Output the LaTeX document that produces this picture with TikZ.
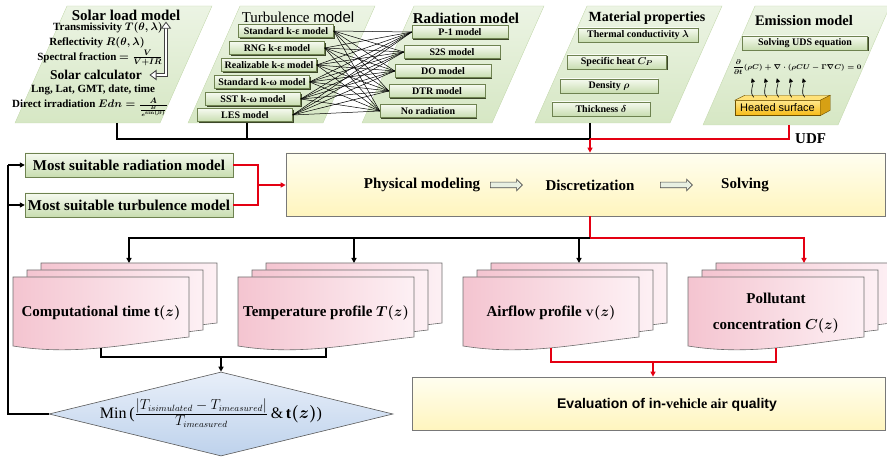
\documentclass[tikz,border=0pt]{standalone}
\usepackage{amsmath}
\usepackage[no-math]{fontspec}
\setmainfont{Liberation Serif}
\setsansfont{Liberation Sans}
\usetikzlibrary{arrows.meta}
\usetikzlibrary{calc}
\usetikzlibrary{shadows}
\usetikzlibrary{shapes.geometric}
\usetikzlibrary{shapes.arrows}

\definecolor{paneltop}{RGB}{236,244,228}
\definecolor{panelbot}{RGB}{214,231,196}
\definecolor{paneledge}{RGB}{198,218,176}
\definecolor{btntop}{RGB}{246,250,240}
\definecolor{btnbot}{RGB}{200,221,176}
\definecolor{btnedge}{RGB}{110,130,80}
\definecolor{btnshade}{RGB}{60,70,40}
\definecolor{procpale}{RGB}{255,254,240}
\definecolor{procyellow}{RGB}{255,245,190}
\definecolor{boxedge}{RGB}{120,120,120}
\definecolor{sheetpink}{RGB}{244,196,208}
\definecolor{sheetpale}{RGB}{253,240,244}
\definecolor{sheetedge}{RGB}{110,110,110}
\definecolor{diamtop}{RGB}{232,239,249}
\definecolor{diambot}{RGB}{190,210,236}
\definecolor{udfred}{RGB}{228,0,18}
\definecolor{hottop}{RGB}{255,232,140}
\definecolor{hotbot}{RGB}{246,185,20}
\definecolor{hotlid}{RGB}{255,226,120}
\definecolor{hotside}{RGB}{214,160,20}
\definecolor{hotedge}{RGB}{110,80,0}
\definecolor{arrowfill}{RGB}{232,240,226}

\tikzstyle{panel}=[draw=paneledge, top color=paneltop, bottom color=panelbot]
\tikzstyle{heading}=[font=\bfseries\fontsize{15}{17}\selectfont, inner sep=0pt]
\tikzstyle{solarline}=[font=\bfseries\boldmath\fontsize{11}{12}\selectfont, inner sep=0pt]
\tikzstyle{modelbox}=[draw=btnedge, top color=btntop, bottom color=btnbot,
  drop shadow={shadow xshift=1.2pt, shadow yshift=-1.2pt, fill=btnshade, opacity=1},
  inner sep=0pt, minimum height=13, font=\bfseries\boldmath\fontsize{10}{12}\selectfont]
\tikzstyle{choice}=[modelbox, minimum width=208, minimum height=24, font=\bfseries\fontsize{15}{17}\selectfont]
\tikzstyle{stage}=[draw=boxedge, line width=0.7pt, top color=procpale, bottom color=procyellow, inner sep=0pt]
\tikzstyle{stagetext}=[font=\bfseries\fontsize{15}{17}\selectfont, inner sep=0pt]
\tikzstyle{bigarrow}=[single arrow, draw=gray!60!black, fill=arrowfill, line width=0.6pt,
  minimum height=32, inner xsep=0pt, inner ysep=2.5pt, single arrow head extend=3pt]
\tikzstyle{sheet}=[draw=sheetedge, line width=0.6pt, left color=sheetpink, right color=sheetpale]
\tikzstyle{sheettext}=[font=\bfseries\boldmath\fontsize{15}{18}\selectfont, align=center, inner sep=0pt]
\tikzstyle{decision}=[diamond, draw=gray!70!black, line width=0.6pt, top color=diamtop, bottom color=diambot,
  minimum width=344, minimum height=84, inner sep=0pt]
\tikzstyle{hotface}=[draw=hotedge, top color=hottop, bottom color=hotbot, minimum width=85, minimum height=15,
  inner sep=0pt, font=\sffamily\fontsize{11}{13}\selectfont]
\tikzstyle{twowayrim}=[draw=black!75, line width=3.4pt, line join=miter]
\tikzstyle{twowaycore}=[draw=white, line width=1.8pt, line join=miter]
\tikzstyle{twowayhead}=[draw=black!75, fill=white, line width=0.8pt, line join=miter]
\tikzstyle{blackline}=[line width=1.2pt]
\tikzstyle{redline}=[line width=1.3pt, draw=udfred]
\tikzstyle{flowtip}=[-{Triangle[length=5pt,width=5pt]}]
\tikzstyle{meshline}=[line width=0.5pt]
\tikzstyle{waveup}=[line width=0.6pt, -{Triangle[length=4pt,width=4pt]}]

\newcommand{\docstack}[4]{%
  \foreach \k in {2,1,0}{%
    \pgfmathsetmacro{\pagex}{#2+14*\k}%
    \pgfmathsetmacro{\pagey}{#3-7*\k}%
    \path[sheet] (\pagex,\pagey) -- ++(176,0) -- ++(0,60)
      .. controls ($(\pagex,\pagey)+(114,67)$) and ($(\pagex,\pagey)+(62,79)$) .. ($(\pagex,\pagey)+(0,69)$) -- cycle;
  }%
  \node[sheettext] (#1) at (#2+88,#3+36) {#4};
  \coordinate (#1top) at (#2+116,#3-14);
  \coordinate (#1foot) at (#2+88,#3+71);
}

\begin{document}
\begin{tikzpicture}[x=1pt,y=-1pt]
  \useasboundingbox (0,0) rectangle (887,457);

  \path[panel] (15,123) -- (67,6) -- (212,6) -- (160,123) -- cycle;
  \path[panel] (188,123) -- (240,6) -- (375,6) -- (323,123) -- cycle;
  \path[panel] (362,123) -- (414,6) -- (544,6) -- (492,123) -- cycle;
  \path[panel] (535,123) -- (587,6) -- (722,6) -- (670,123) -- cycle;
  \path[panel] (703,125) -- (755,6) -- (890,6) -- (838,125) -- cycle;

  \node[heading] (solartitle) at (126,15) {Solar load model};
  \node[solarline] (transm) at (108,28) {Transmissivity $T(\theta,\lambda)$};
  \node[solarline] (reflect) at (97,43) {Reflectivity $R(\theta,\lambda)$};
  \node[solarline] (spectral) at (100,58) {Spectral fraction $=\frac{V}{V+IR}$};
  \node[heading, font=\bfseries\fontsize{13.5}{15}\selectfont] (solcalc) at (96,75) {Solar calculator};
  \node[solarline] (lnglat) at (93,90) {Lng, Lat, GMT, date, time};
  \node[solarline] (direct) at (90,107) {Direct irradiation $Edn=\frac{A}{\frac{B}{e^{\sin(\beta)}}}$};
  \coordinate (loopx) at (166,0);
  \coordinate (loopup) at (loopx |- transm.north);
  \coordinate (loopdown) at (loopx |- solcalc);
  \coordinate (looptip) at ([xshift=8pt]solcalc.east);
  \draw[twowayrim] ([yshift=-5pt]loopup) -- (loopdown) -- ([xshift=5pt]looptip);
  \draw[twowaycore] ([yshift=-4pt]loopup) -- (loopdown) -- ([xshift=4pt]looptip);
  \path[twowayhead] (loopup) -- ++(-4.5,6) -- ++(9,0) -- cycle;
  \path[twowayhead] (looptip) -- ++(6,-4.5) -- ++(0,9) -- cycle;

  \node[heading, font=\fontsize{15}{17}\selectfont] (turbtitle) at (298,17) {Turbulence \textsf{model}};
  \node[modelbox, minimum width=95] (stdke) at (286,31) {Standard k-ε model};
  \node[modelbox, minimum width=95] (rngke) at (277,48) {RNG k-ε model};
  \node[modelbox, minimum width=95] (realke) at (269,65) {Realizable k-ε model};
  \node[modelbox, minimum width=95] (stdkw) at (262,82) {Standard k-ω model};
  \node[modelbox, minimum width=95] (sstkw) at (253,99) {SST k-ω model};
  \node[modelbox, minimum width=95] (les) at (245,115) {LES model};

  \node[heading] (radtitle) at (466,18) {Radiation model};
  \node[modelbox, minimum width=96] (pone) at (460,32) {P-1 model};
  \node[modelbox, minimum width=96] (stos) at (452,52) {S2S model};
  \node[modelbox, minimum width=96] (dom) at (443,71) {DO model};
  \node[modelbox, minimum width=96] (dtr) at (437,91) {DTR model};
  \node[modelbox, minimum width=96] (norad) at (428,111) {No radiation};

  \foreach \t in {stdke,rngke,realke,stdkw,sstkw,les}
    \foreach \r in {pone,stos,dom,dtr,norad}
      \draw[meshline] (\t.east) -- (\r.west);

  \node[heading, font=\bfseries\fontsize{14}{16}\selectfont] (mattitle) at (647,18) {Material properties};
  \node[modelbox, minimum width=120, minimum height=14] (thermal) at (638,35) {Thermal conductivity $\lambda$};
  \node[modelbox, minimum width=99, minimum height=14] (specheat) at (617,62) {Specific heat $C_P$};
  \node[modelbox, minimum width=98, minimum height=14] (density) at (609,86) {Density $\rho$};
  \node[modelbox, minimum width=98, minimum height=14] (thick) at (601,109) {Thickness $\delta$};

  \node[heading, font=\bfseries\fontsize{14.5}{16}\selectfont] (emistitle) at (804,21) {Emission model};
  \node[modelbox, minimum width=125, minimum height=14] (udseq) at (805,43) {Solving UDS equation};
  \node[inner sep=0pt, font=\boldmath\fontsize{7.5}{9}\selectfont] (eqn) at (797,67)
    {$\displaystyle\frac{\partial}{\partial t}(\rho C)+\nabla\cdot(\rho CU-\Gamma\nabla C)=0$};
  \node[hotface] (heated) at (777.5,108) {Heated surface};
  \path[draw=hotedge, fill=hotlid] (heated.north west) -- ++(10,-5) -- ($(heated.north east)+(10,-5)$) -- (heated.north east) -- cycle;
  \path[draw=hotedge, fill=hotside] (heated.north east) -- ++(10,-5) -- ++(0,15) -- (heated.south east) -- cycle;
  \foreach \x in {17,30,42,55,68}
    \draw[waveup] ($(heated.north west)+(\x+2,-3)$) .. controls +(-5,-5) and +(2,6) .. ($(heated.north west)+(\x,-22)$);

  \coordinate (solarfoot) at (117,123);
  \coordinate (turbfoot) at (247,123);
  \coordinate (matfoot) at (590,123);
  \coordinate (emisfoot) at (789,125);
  \coordinate (upjoin) at (590,139);
  \draw[blackline] (solarfoot) |- (upjoin);
  \draw[blackline] (turbfoot) -- (turbfoot |- upjoin);
  \draw[blackline] (matfoot) -- (upjoin);
  \draw[redline] (emisfoot) |- (upjoin);
  \node[heading, anchor=west] (udf) at (795,139) {UDF};

  \node[stage, minimum width=599, minimum height=63] (process) at (585.5,184.5) {};
  \node[stagetext] (phys) at (422,185) {Physical modeling};
  \node[bigarrow] (arrowa) at (505,185) {};
  \node[stagetext] (discr) at (590,185) {Discretization};
  \node[bigarrow] (arrowb) at (675,185) {};
  \node[stagetext] (solve) at (745,185) {Solving};
  \draw[redline, flowtip] (upjoin) -- (upjoin |- process.north);

  \node[choice] (bestrad) at (129,165) {Most suitable radiation model};
  \node[choice] (bestturb) at (129,205) {Most suitable turbulence model};
  \coordinate (mergein) at (258,185);
  \draw[redline] (bestrad.east) -| (mergein);
  \draw[redline] (bestturb.east) -| (mergein);
  \draw[redline, flowtip] (mergein) -- (process.west |- mergein);

  \docstack{comp}{13}{277}{Computational time t$(z)$}
  \docstack{temp}{238}{277}{Temperature profile $T(z)$}
  \docstack{air}{463}{277}{Airflow profile $\mathbf{v}(z)$}
  \docstack{poll}{688}{277}{Pollutant\\[8pt]concentration $C(z)$}

  \coordinate (midjoin) at (590,238);
  \draw[redline] (process.south -| midjoin) -- (midjoin);
  \draw[blackline, flowtip] (midjoin) -| (comptop);
  \draw[blackline, flowtip] (midjoin) -| (temptop);
  \draw[blackline, flowtip] (midjoin) -| (airtop);
  \draw[redline, flowtip] (midjoin) -| (polltop);

  \node[decision] (crit) at (221,414) {};
  \node[inner sep=0pt, font=\fontsize{16}{18}\selectfont] (critlabel) at (211,413)
    {Min\,($\frac{\hbox{\fontsize{13.5}{15}\selectfont$|T_{isimulated}-T_{imeasured}|$}}{\hbox{\fontsize{13.5}{15}\selectfont$T_{imeasured}$}}$\,\&\,{\bfseries\boldmath t$(z)$})};
  \coordinate (lowjoin) at (221,357);
  \draw[blackline] (compfoot) |- (lowjoin) -| (tempfoot);
  \draw[blackline, flowtip] (lowjoin) -- (crit.north);
  \coordinate (rail) at (8,165);
  \draw[blackline] (crit.west) -| (rail);
  \draw[blackline, flowtip] (rail) -- (bestrad.west);
  \draw[blackline, flowtip] (rail |- bestturb) -- (bestturb.west);

  \node[stage, minimum width=473, minimum height=53] (evalq) at (648.5,403.5) {};
  \node[inner sep=0pt, font=\sffamily\bfseries\fontsize{14}{16}\selectfont] (evaltext) at (667,405)
    {Evaluation of in-{\rmfamily vehicle air} quality};
  \coordinate (evaljoin) at (653,362);
  \draw[redline] (airfoot) |- (evaljoin) -| (pollfoot);
  \draw[redline, flowtip] (evaljoin) -- (evaljoin |- evalq.north);
\end{tikzpicture}
\end{document}
